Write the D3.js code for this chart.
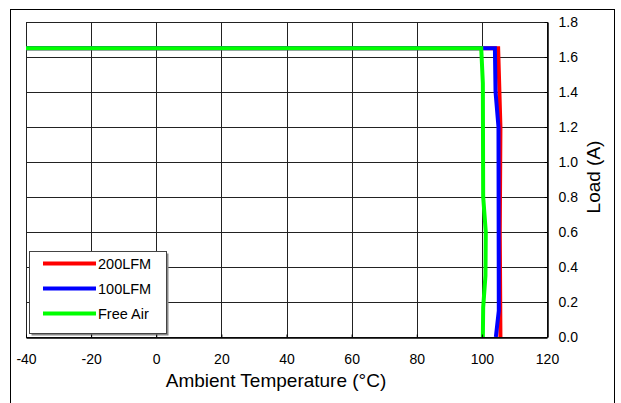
<!DOCTYPE html>
<html>
<head>
<meta charset="utf-8">
<script src="https://cdn.jsdelivr.net/npm/d3@7"></script>
<style>
  body { margin: 0; background: #fff; }
  text { font-family: Arial, "Liberation Sans", sans-serif; fill: #000; }
</style>
</head>
<body>
<svg id="chart" width="621" height="403"></svg>
<script>
// derating curves, [temperature °C, load A]
var series200 = [[-40, 1.65], [105.0, 1.65], [105.7, 1.2], [105.5, 0.6], [105.7, 0]];
var series100 = [[-40, 1.65], [104.0, 1.65], [104.2, 1.4], [105.1, 1.2], [105.2, 0.15], [104.3, 0]];
var seriesFree = [[-40, 1.65], [99.8, 1.65], [100.3, 1.45], [100.4, 0.8], [101.2, 0.6], [101.1, 0.35], [100.4, 0.17], [100.3, 0]];
var seriesNames = ["200LFM", "100LFM", "Free Air"];
var seriesColors = ["#ff0000", "#0000ff", "#00ff00"];
var xTicks = [-40, -20, 0, 20, 40, 60, 80, 100, 120];
var yTicks = [0, 0.2, 0.4, 0.6, 0.8, 1.0, 1.2, 1.4, 1.6, 1.8];

var svg = d3.select("#chart");

// outer frame
svg.append("rect")
    .attr("x", 10.5).attr("y", 9.5)
    .attr("width", 604).attr("height", 420)
    .attr("fill", "none").attr("stroke", "#000");

var x = d3.scaleLinear().domain([-40, 120]).range([26, 547]);
var y = d3.scaleLinear().domain([0, 1.8]).range([337, 22]);

// grid
svg.append("g").selectAll("line")
    .data(xTicks)
    .enter().append("line")
    .attr("x1", d => Math.round(x(d)) + 0.5).attr("x2", d => Math.round(x(d)) + 0.5)
    .attr("y1", y(1.8)).attr("y2", y(0))
    .attr("stroke", "#222").attr("stroke-width", 1);

svg.append("g").selectAll("line")
    .data(yTicks)
    .enter().append("line")
    .attr("y1", d => Math.round(y(d)) + 0.5).attr("y2", d => Math.round(y(d)) + 0.5)
    .attr("x1", x(-40)).attr("x2", x(120))
    .attr("stroke", "#222").attr("stroke-width", 1);

// curves
var line = d3.line().x(d => x(d[0])).y(d => y(d[1]));
[series200, series100, seriesFree].forEach(function(s, i) {
    svg.append("path")
        .datum(s)
        .attr("d", line)
        .attr("fill", "none")
        .attr("stroke", seriesColors[i])
        .attr("stroke-width", 4);
});

// legend
var legend = svg.append("g");
legend.append("rect")
    .attr("x", 31.5).attr("y", 253.5)
    .attr("width", 137).attr("height", 82)
    .attr("fill", "#888");
legend.append("rect")
    .attr("x", 29.5).attr("y", 251.5)
    .attr("width", 137).attr("height", 82)
    .attr("fill", "#fff").attr("stroke", "#444");

seriesNames.forEach(function(name, i) {
    var ly = 263.5 + i * 25;
    legend.append("line")
        .attr("x1", 43).attr("x2", 96)
        .attr("y1", ly).attr("y2", ly)
        .attr("stroke", seriesColors[i]).attr("stroke-width", 4);
    legend.append("text")
        .attr("x", 98).attr("y", ly + 5)
        .style("font-size", "14.5px")
        .text(name);
});

// axes
var xAxis = svg.append("g")
    .attr("transform", "translate(0," + (Math.round(y(0)) + 0.5) + ")")
    .call(d3.axisBottom(x).tickValues(xTicks).tickSizeInner(-3).tickSizeOuter(0).tickPadding(17)
        .tickFormat(d => String(d)));
xAxis.select(".domain").attr("stroke", "#000").attr("stroke-width", 1.5);
xAxis.selectAll("text").style("font-size", "14px").attr("font-family", "Arial, 'Liberation Sans', sans-serif");

var yAxis = svg.append("g")
    .attr("transform", "translate(" + (Math.round(x(120)) + 0.5) + ",0)")
    .call(d3.axisRight(y).tickValues(yTicks).tickSizeInner(-3).tickSizeOuter(0).tickPadding(11)
        .tickFormat(d3.format(".1f")));
yAxis.select(".domain").attr("stroke", "#000").attr("stroke-width", 1.5);
yAxis.selectAll("text").style("font-size", "14px").attr("font-family", "Arial, 'Liberation Sans', sans-serif");

// axis titles
svg.append("text")
    .attr("x", 276).attr("y", 387)
    .attr("text-anchor", "middle")
    .style("font-size", "19px")
    .text("Ambient Temperature (°C)");

svg.append("text")
    .attr("transform", "translate(600,177) rotate(-90)")
    .attr("text-anchor", "middle")
    .style("font-size", "19px")
    .text("Load (A)");
</script>
</body>
</html>
